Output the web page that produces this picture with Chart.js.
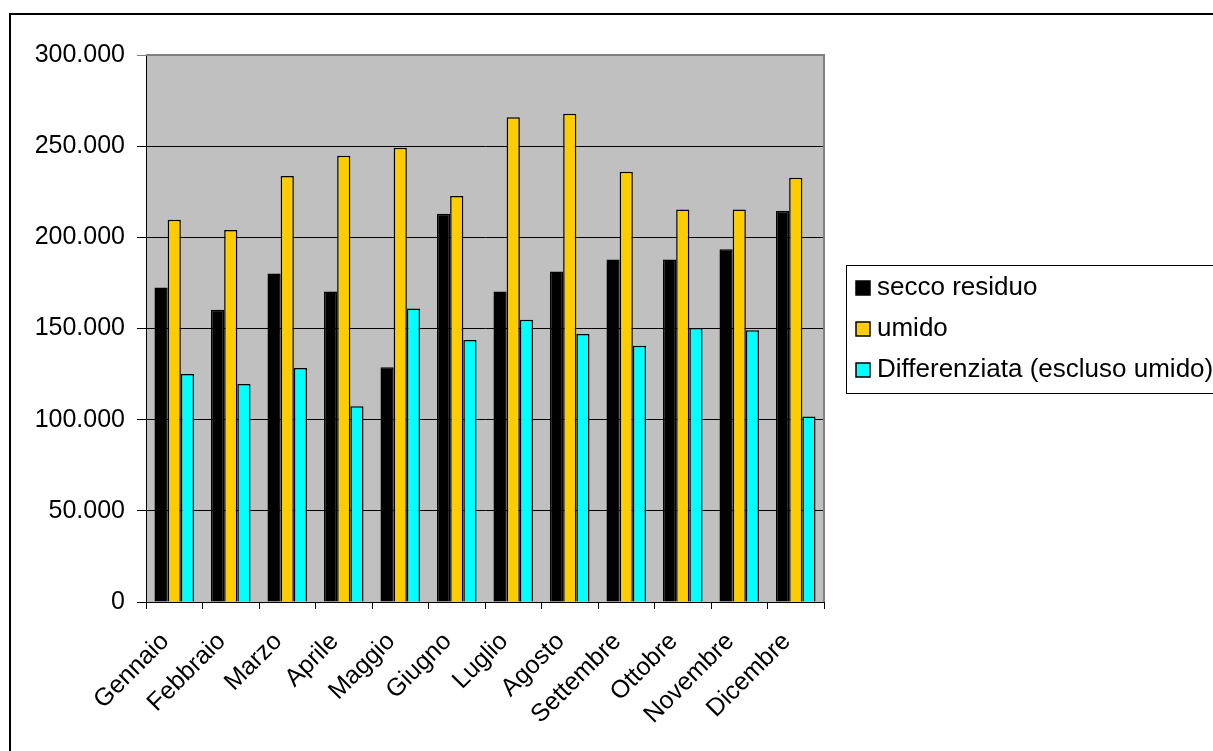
<!DOCTYPE html>
<html>
<head>
<meta charset="utf-8">
<script src="https://cdn.jsdelivr.net/npm/chart.js@4"></script>
<style>
html,body{margin:0;padding:0;background:#fff;}
#wrap{width:1213px;height:751px;position:relative;}
</style>
</head>
<body>
<div id="wrap"><canvas id="c" width="1213" height="751"></canvas></div>
<script>
const months = ['Gennaio','Febbraio','Marzo','Aprile','Maggio','Giugno','Luglio','Agosto','Settembre','Ottobre','Novembre','Dicembre'];
const seccoResiduo = [172500,160300,180200,170300,128700,213000,170300,181300,187900,187900,193400,214400];
const umido = [209700,204000,233600,244800,249200,222700,265800,267800,236000,215200,215200,232700];
const differenziata = [125000,119600,128300,107300,161000,143700,154800,147000,140600,150300,149000,101800];
const seriesLabels = ['secco residuo','umido','Differenziata (escluso umido)'];
const seriesColors = ['#000000','#FFCC00','#00FFFF'];
const yMin = 0, yMax = 300000, yStep = 50000;

const FONT = '"Liberation Sans", Arial, sans-serif';

function fmt(v){
  return String(v).replace(/\B(?=(\d{3})+(?!\d))/g,'.');
}

const framePlugin = {
  id:'frame',
  beforeDraw(chart){
    const ctx = chart.ctx, a = chart.chartArea;
    ctx.save();
    ctx.fillStyle = '#fff';
    ctx.fillRect(0,0,chart.width,chart.height);
    ctx.strokeStyle = '#000';
    ctx.lineWidth = 2;
    ctx.strokeRect(10,14,chart.width+20,chart.height+20);
    ctx.fillStyle = '#C0C0C0';
    ctx.fillRect(a.left,a.top,a.right-a.left,a.bottom-a.top);
    ctx.restore();
  },
  afterDraw(chart){
    const ctx = chart.ctx, a = chart.chartArea;
    ctx.save();
    ctx.strokeStyle = '#808080';
    ctx.lineWidth = 2;
    ctx.beginPath();
    ctx.moveTo(a.left,a.top);
    ctx.lineTo(a.right,a.top);
    ctx.lineTo(a.right,a.bottom);
    ctx.stroke();
    const lx = 846, ly = 265, lh = 128;
    ctx.fillStyle = '#fff';
    ctx.fillRect(lx,ly,chart.width-lx+10,lh);
    ctx.strokeStyle = '#000';
    ctx.lineWidth = 1;
    ctx.strokeRect(lx+0.5,ly+0.5,chart.width-lx+10,lh);
    ctx.font = '26px ' + FONT;
    ctx.textBaseline = 'middle';
    ctx.textAlign = 'left';
    chart.data.datasets.forEach((ds,i)=>{
      const cy = 287 + i*41;
      ctx.fillStyle = ds.backgroundColor;
      ctx.fillRect(856,cy-6,14,14);
      ctx.strokeStyle = '#000';
      ctx.lineWidth = 1.5;
      ctx.strokeRect(856,cy-6,14,14);
      ctx.fillStyle = '#000';
      ctx.fillText(ds.label,877,cy+1);
    });
    ctx.restore();
  }
};

const seriesData = [seccoResiduo, umido, differenziata];
new Chart(document.getElementById('c'),{
  type:'bar',
  data:{
    labels:months,
    datasets: seriesData.map((d,i)=>({
      label:seriesLabels[i],
      data:d,
      backgroundColor:seriesColors[i],
      borderColor:'#000',
      borderWidth:1.5,
      borderSkipped:'bottom',
      categoryPercentage:0.7,
      barPercentage:1.0
    }))
  },
  options:{
    responsive:false,
    animation:false,
    devicePixelRatio:1,
    layout:{padding:{left:0,top:55,right:389,bottom:0}},
    plugins:{legend:{display:false},tooltip:{enabled:false},title:{display:false}},
    scales:{
      x:{
        grid:{display:true,drawOnChartArea:false,drawTicks:true,tickLength:7,color:'#000',offset:true},
        border:{display:true,color:'#000',width:1},
        ticks:{color:'#000',font:{family:FONT,size:25},minRotation:45,maxRotation:45,padding:18,labelOffset:-9,autoSkip:false},
        afterFit(s){s.height=149;}
      },
      y:{
        min:yMin,max:yMax,
        grid:{color:(c)=> c.tick && c.tick.value===yMax ? '#808080' : '#000',lineWidth:1,tickLength:9},
        border:{display:true,color:'#000',width:1},
        ticks:{stepSize:yStep,color:'#000',font:{family:FONT,size:25},padding:12,callback:(v)=>fmt(v)},
        afterFit(s){s.width=146;}
      }
    }
  },
  plugins:[framePlugin]
});
</script>
</body>
</html>
